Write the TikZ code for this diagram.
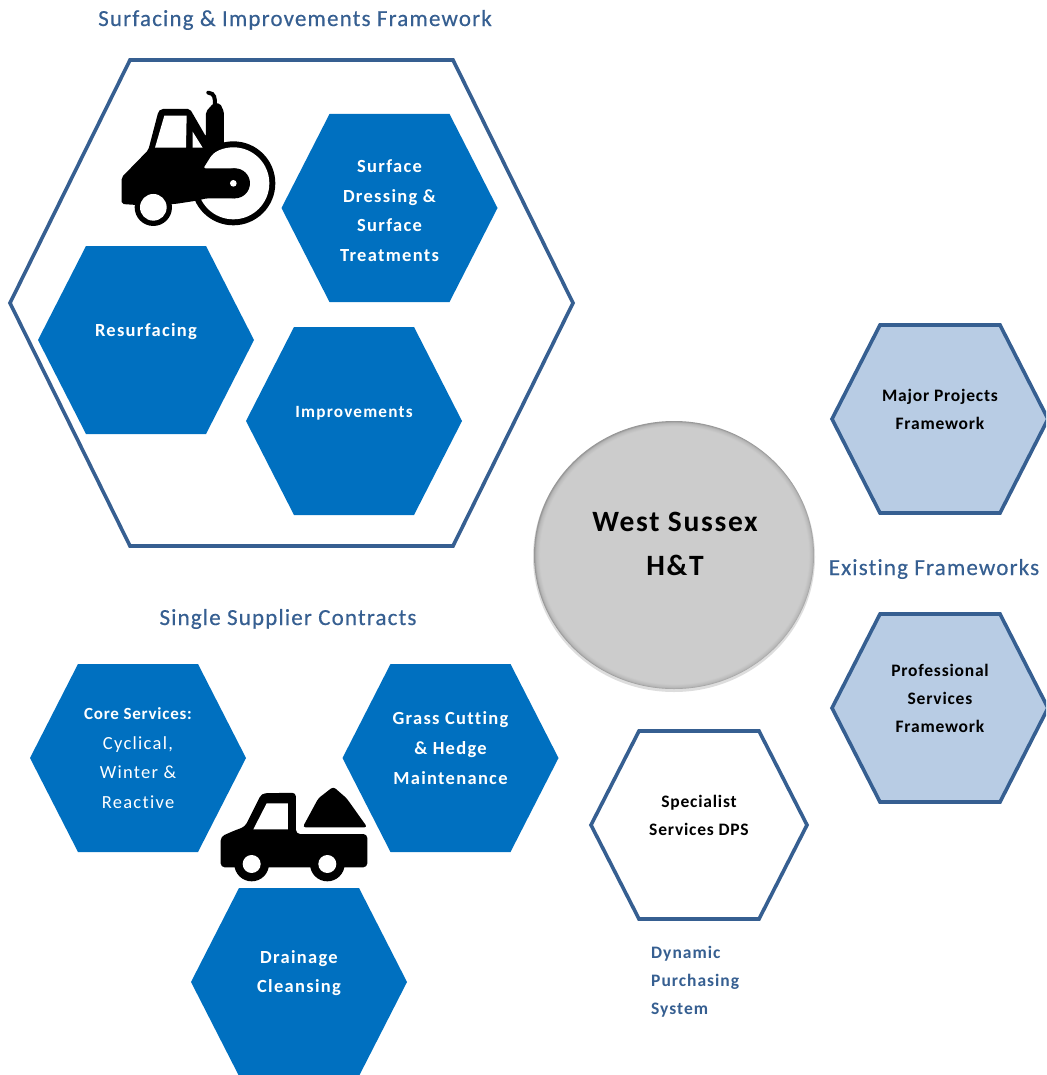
\documentclass[tikz,border=0pt]{standalone}
\usepackage{fontspec}
\setmainfont{Carlito}
\newfontfamily\headfont[LetterSpace=5,Ligatures=NoCommon,FakeBold=0.4]{Carlito}
\newfontfamily\labwfont[LetterSpace=7,Ligatures=NoCommon,BoldFont=Carlito Bold]{Carlito}
\newfontfamily\labkfont[LetterSpace=4.5,Ligatures=NoCommon,BoldFont=Carlito Bold]{Carlito}
\newfontfamily\labbfont[LetterSpace=5.7,Ligatures=NoCommon,BoldFont=Carlito Bold]{Carlito}
\definecolor{hexblue}{HTML}{0070C0}
\definecolor{edgeblue}{HTML}{365F91}
\definecolor{paleblue}{HTML}{B8CCE4}
\pgfdeclareradialshading{bevelball}{\pgfpoint{0bp}{0bp}}{
  color(0bp)=(black!20); color(20bp)=(black!20); color(24bp)=(black!20);
  color(24.7bp)=(black!28); color(25bp)=(black!42); color(50bp)=(black!42)}
\tikzset{
  every node/.style={inner sep=0pt,align=center},
  solidhex/.style={fill=hexblue},
  palehex/.style={draw=edgeblue,line width=3.6pt,fill=paleblue,line join=miter},
  whitehex/.style={draw=edgeblue,line width=3.6pt,fill=white,line join=miter},
  headtext/.style={text=edgeblue,font=\headfont\fontsize{23}{26}\selectfont},
  labw/.style={text=white,font=\labwfont\bfseries\fontsize{18.5}{29.7}\selectfont},
  labk/.style={text=black,font=\labkfont\bfseries\fontsize{17.5}{28}\selectfont},
  icon/.style={fill=black,draw=none},
  iconhole/.style={fill=white,draw=none}
}
\newcommand{\hexa}[3]{% cx, cy, style
  \path[#3] (#1-108,#2) -- (#1-60,#2-94) -- (#1+60,#2-94) -- (#1+108,#2)
    -- (#1+60,#2+94) -- (#1-60,#2+94) -- cycle;}
\begin{document}
\begin{tikzpicture}[x=1pt,y=-1pt]
\useasboundingbox (0,0) rectangle (1046,1075);
\clip (0,0) rectangle (1046,1075);
\fill[white] (0,0) rectangle (1046,1075);

% large frame
\path[whitehex] (10,303) -- (130,60) -- (453,60) -- (573,303) -- (453,546) -- (130,546) -- cycle;

% hexagons
\hexa{389.5}{208}{solidhex}
\hexa{146}{340}{solidhex}
\hexa{354}{421}{solidhex}
\hexa{138}{758}{solidhex}
\hexa{450.5}{758}{solidhex}
\hexa{299}{982}{solidhex}
\hexa{699}{825}{whitehex}
\hexa{940}{419}{palehex}
\hexa{940}{708}{palehex}

% roller icon
\begin{scope}[shift={(100,70)},x=0.3333pt,y=-0.3333pt]
  \fill[icon] (400,340) circle (126);
  \fill[iconhole] (400,340) circle (108);
  \fill[icon,rounded corners=2pt] (65,322) -- (145,240) -- (175,125) -- (183,117) -- (270,117) -- (318,200)
     -- (318,125) -- (340,100) -- (360,100) -- (372,125) -- (372,225)
     -- (335,255) -- (310,295) -- (410,295) -- (410,385) -- (320,385) -- (290,392) -- (225,402) -- (110,405) -- (65,402) -- cycle;
  \draw[black,line width=4pt,line cap=round] (325,68) .. controls (345,70) and (345,85) .. (345,105);
  \fill[icon] (405,340) circle (45);
  \fill[iconhole] (400,340) circle (10);
  \fill[iconhole] (193,137) -- (260,137) -- (258,233) -- (165,233) -- cycle;
  \fill[iconhole] (278,185) -- (308,233) -- (278,233) -- cycle;
  \fill[icon] (160,412) circle (56);
  \fill[iconhole] (160,412) circle (40);
\end{scope}

% truck icon
\begin{scope}[shift={(200,770)},x=0.3333pt,y=-0.3333pt]
  \fill[icon,rounded corners=4pt] (62,200) -- (100,183) -- (135,170) -- (185,70) -- (288,68) -- (288,192) -- (502,192)
     -- (502,292) -- (62,292) -- cycle;
  \fill[iconhole] (200,100) -- (264,100) -- (264,178) -- (160,178) -- cycle;
  \fill[icon,rounded corners=3pt] (308,172) -- (355,85) -- (400,50) -- (440,85) -- (502,172) -- cycle;
  \fill[icon] (155,282) circle (52);
  \fill[icon] (382,282) circle (52);
  \fill[iconhole] (155,282) circle (27);
  \fill[iconhole] (382,282) circle (27);
\end{scope}

% central circle
\fill[black!22,opacity=.6] (674,557) ellipse (141 and 135);
\shade[shading=bevelball] (674,555) ellipse (140 and 134);

% texts
\node[headtext] (t1) at (295,20) {Surfacing \& Improvements Framework};
\node[headtext] (t2) at (288,619) {Single Supplier Contracts};
\node[headtext] (t3) at (934,569) {Existing Frameworks};
\node[font=\labbfont\bfseries\fontsize{29.5}{44}\selectfont] (ws) at (675,544) {West Sussex\\H\&T};
\node[labw] (n1) at (389.5,210.5) {Surface\\Dressing \&\\Surface\\Treatments};
\node[labw] (n2) at (146,332) {Resurfacing};
\node[labw,font=\labwfont\bfseries\fontsize{17.2}{29.7}\selectfont] (n3) at (354,413) {Improvements};
\node[text=white,font=\labwfont\fontsize{18.5}{29.5}\selectfont] (n4) at (138,758) {{\labkfont\bfseries\fontsize{17}{29.5}\selectfont Core Services:}\\Cyclical,\\Winter \&\\Reactive};
\node[labw] (n5) at (450.5,748) {Grass Cutting\\\& Hedge\\Maintenance};
\node[labw] (n6) at (299,973) {Drainage\\Cleansing};
\node[labk] (n7) at (699,815) {Specialist\\Services DPS};
\node[labk] (n8) at (940,409) {Major Projects\\Framework};
\node[labk] (n9) at (940,698) {Professional\\Services\\Framework};
\node[text=edgeblue,font=\labbfont\bfseries\fontsize{17.5}{28}\selectfont,align=left,anchor=north west] (n10) at (651,946) {Dynamic\\Purchasing\\System};
\end{tikzpicture}
\end{document}
